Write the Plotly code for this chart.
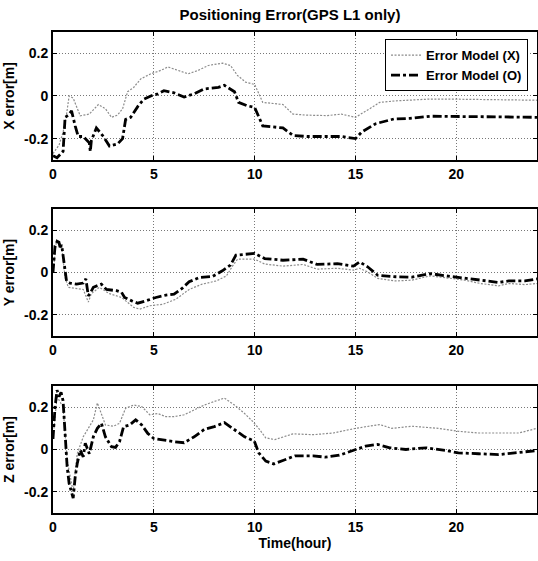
import plotly.graph_objects as go

# ---------------- data ----------------
# X error panel
tx_o = [0, 0.2, 0.5, 0.6, 0.75, 0.92, 1.1, 1.25, 1.5, 1.8, 1.85, 1.9, 2.15, 2.5, 2.8, 3.2, 3.45, 3.6, 3.85, 4.2, 4.5, 4.85,
        5.2, 5.5, 6.0, 6.5, 7.0, 7.5, 8.2, 8.5, 9.0, 9.2, 9.6, 10.0, 10.4, 10.9, 11.4, 11.9, 12.6, 14.3, 15.0, 15.3, 16.0,
        16.9, 17.7, 18.7, 20.0, 22.0, 24.0]
x_err_o = [-0.28, -0.29, -0.26, -0.10, -0.09, -0.07, -0.14, -0.19, -0.19, -0.22, -0.26, -0.21, -0.15, -0.19, -0.235,
           -0.225, -0.20, -0.11, -0.10, -0.05, -0.015, 0.0, 0.01, 0.025, 0.015, -0.005, 0.01, 0.033, 0.04, 0.05, 0.02,
           -0.03, -0.045, -0.054, -0.14, -0.146, -0.15, -0.185, -0.19, -0.19, -0.20, -0.17, -0.13, -0.108, -0.105,
           -0.095, -0.095, -0.098, -0.10]
tx_x = [0, 0.15, 0.3, 0.5, 0.65, 0.8, 1.0, 1.35, 1.8, 2.25, 2.6, 2.9, 3.2, 3.45, 3.7, 4.0, 4.35, 4.85, 5.35, 5.7, 6.2,
        6.7, 7.2, 7.7, 8.4, 8.8, 9.15, 9.55, 10.0, 10.4, 11.4, 11.9, 12.6, 13.6, 14.3, 15.0, 15.7, 16.2, 17.0, 18.6,
        20.0, 22.0, 24.0]
x_err_x = [-0.27, -0.25, -0.23, -0.17, -0.10, 0.0, -0.01, -0.093, -0.085, -0.04, -0.06, -0.10, -0.09, -0.06, 0.02,
           0.04, 0.08, 0.104, 0.12, 0.136, 0.12, 0.104, 0.12, 0.143, 0.154, 0.143, 0.096, 0.065, 0.054, -0.03, -0.04,
           -0.085, -0.09, -0.092, -0.085, -0.10, -0.06, -0.03, -0.023, -0.015, -0.015, -0.018, -0.02]

# Y error panel
ty_o = [0, 0.1, 0.26, 0.35, 0.43, 0.5, 0.6, 0.67, 0.84, 1.17, 1.5, 1.63, 1.75, 1.83, 2.0, 2.4, 2.65, 3.15, 3.4, 3.55,
        3.9, 4.2, 4.6, 5.1, 5.6, 6.0, 6.4, 6.75, 7.25, 7.9, 8.4, 8.8, 9.07, 9.56, 10.0, 10.5, 11.4, 12.4, 13.1, 14.1,
        14.9, 15.2, 15.6, 16.1, 17.0, 17.8, 18.7, 19.5, 20.4, 21.2, 22.1, 22.6, 23.4, 24.0]
y_err_o = [0.0, 0.126, 0.157, 0.12, 0.13, 0.08, -0.016, -0.04, -0.05, -0.055, -0.05, -0.03, -0.11, -0.10, -0.07,
           -0.055, -0.08, -0.086, -0.094, -0.118, -0.134, -0.145, -0.134, -0.118, -0.107, -0.102, -0.075, -0.044,
           -0.024, -0.019, 0.008, 0.035, 0.082, 0.086, 0.09, 0.066, 0.058, 0.063, 0.038, 0.042, 0.03, 0.05, 0.027,
           -0.013, -0.02, -0.022, -0.005, -0.016, -0.028, -0.036, -0.047, -0.04, -0.04, -0.03]
ty_x = [0, 0.18, 0.43, 0.6, 0.76, 1.5, 1.75, 1.9, 2.3, 2.8, 3.4, 4.0, 4.3, 4.8, 5.45, 6.1, 6.75, 7.4, 8.1, 8.6, 8.9,
        9.15, 9.56, 10.0, 10.5, 11.4, 12.4, 13.1, 14.1, 14.9, 15.2, 15.6, 16.1, 17.0, 17.8, 18.7, 19.5, 20.4, 21.2,
        22.1, 22.6, 23.4, 24.0]
y_err_x = [0.0, 0.157, 0.126, -0.024, -0.07, -0.08, -0.14, -0.10, -0.07, -0.10, -0.118, -0.165, -0.173, -0.157,
           -0.15, -0.126, -0.08, -0.055, -0.04, -0.016, 0.03, 0.063, 0.063, 0.063, 0.04, 0.03, 0.038, 0.016, 0.02,
           0.011, 0.02, 0.003, -0.028, -0.04, -0.036, -0.016, -0.025, -0.036, -0.052, -0.063, -0.052, -0.057, -0.052]

# Z error panel
tz_o = [0, 0.1, 0.2, 0.3, 0.4, 0.5, 0.6, 0.7, 0.8, 0.9, 1.0, 1.1, 1.2, 1.35, 1.5, 1.6, 1.8, 2.0, 2.2, 2.4, 2.6, 2.9,
        3.1, 3.3, 3.5, 3.8, 4.1, 4.4, 4.7, 5.0, 5.5, 6.0, 6.5, 7.0, 7.5, 8.0, 8.5, 9.0, 9.5, 9.98, 10.2, 10.55, 10.95,
        11.4, 12.0, 12.9, 13.5, 14.2, 14.9, 15.5, 16.1, 16.7, 17.5, 18.5, 19.5, 20.1, 21.1, 22.1, 22.9, 23.7, 24.0]
z_err_o = [0.05, 0.2, 0.28, 0.25, 0.27, 0.23, 0.076, -0.08, -0.16, -0.19, -0.23, -0.13, -0.067, -0.003, -0.035, 0.03,
           -0.02, 0.06, 0.10, 0.124, 0.06, 0.013, 0.01, 0.037, 0.108, 0.116, 0.14, 0.116, 0.076, 0.052, 0.044, 0.037,
           0.032, 0.06, 0.095, 0.108, 0.127, 0.092, 0.06, 0.04, -0.016, -0.055, -0.068, -0.052, -0.03, -0.03, -0.036,
           -0.027, -0.005, 0.016, 0.024, 0.008, 0.0, 0.008, -0.005, -0.016, -0.02, -0.024, -0.016, -0.008, -0.005]
tz_x = [0, 0.2, 0.5, 0.7, 1.0, 1.2, 1.5, 1.7, 2.0, 2.2, 2.4, 2.6, 3.0, 3.3, 3.6, 4.0, 4.4, 4.8, 5.2, 5.6, 6.0, 6.5,
        7.0, 7.5, 8.0, 8.5, 9.0, 9.5, 9.9, 10.2, 10.55, 11.0, 11.9, 12.9, 13.9, 15.0, 16.2, 16.8, 17.8, 19.1, 20.1,
        21.1, 22.1, 23.1, 24.0]
z_err_x = [0.05, 0.25, 0.2, -0.05, -0.2, -0.02, 0.06, 0.09, 0.14, 0.22, 0.17, 0.116, 0.11, 0.124, 0.195, 0.21, 0.203,
           0.164, 0.17, 0.155, 0.155, 0.164, 0.187, 0.21, 0.227, 0.243, 0.21, 0.17, 0.133, 0.10, 0.055, 0.047, 0.074,
           0.07, 0.078, 0.10, 0.118, 0.10, 0.11, 0.10, 0.086, 0.078, 0.078, 0.078, 0.10]

x_ticks = [0, 5, 10, 15, 20]
y_ticks = [-0.2, 0, 0.2]
y_tick_text = ["-0.2", "0", "0.2"]
axis_titles = ["X error[m]", "Y error[m]", "Z error[m]"]
legend_names = ["Error Model (X)", "Error Model (O)"]

# ---------------- figure ----------------
FONT = "Liberation Sans"
fig = go.Figure()
panels = [(tx_x, x_err_x, tx_o, x_err_o), (ty_x, y_err_x, ty_o, y_err_o), (tz_x, z_err_x, tz_o, z_err_o)]
domains = [[0.734, 1.0], [0.368, 0.632], [0.0, 0.264]]

for i, (tX, vX, tO, vO) in enumerate(panels):
    sfx = "" if i == 0 else str(i + 1)
    fig.add_trace(go.Scatter(x=tX, y=vX, mode="lines", name=legend_names[0],
                             line=dict(color="#8c8c8c", width=1.2, dash="2px,1.5px"),
                             xaxis="x" + sfx, yaxis="y" + sfx, showlegend=(i == 0)))
    fig.add_trace(go.Scatter(x=tO, y=vO, mode="lines", name=legend_names[1],
                             line=dict(color="black", width=2.8, dash="dashdot"),
                             xaxis="x" + sfx, yaxis="y" + sfx, showlegend=(i == 0)))
    common = dict(showline=True, linecolor="black", linewidth=2, mirror="ticks",
                  ticks="inside", ticklen=4, tickcolor="black", tickwidth=1,
                  showgrid=True, gridcolor="#777777", gridwidth=1, griddash="1px,2px",
                  zeroline=False, automargin=False,
                  tickfont=dict(family=FONT, size=14, color="black", weight="bold"))
    xa = dict(common, range=[0, 24], tickvals=x_ticks, domain=[0, 1], anchor="y" + sfx)
    ya = dict(common, range=[-0.3, 0.3], tickvals=y_ticks, ticktext=y_tick_text, domain=domains[i],
              anchor="x" + sfx,
              title=dict(text=axis_titles[i], standoff=6,
                         font=dict(family=FONT, size=14, color="black", weight="bold")))
    if i == 2:
        xa["title"] = dict(text="Time(hour)", standoff=4,
                           font=dict(family=FONT, size=14, color="black", weight="bold"))
    fig.update_layout(**{"xaxis" + sfx: xa, "yaxis" + sfx: ya})

fig.update_layout(
    width=538, height=561,
    margin=dict(l=53, r=1, t=32, b=48, autoexpand=False),
    paper_bgcolor="white", plot_bgcolor="white",
    title=dict(text="Positioning Error(GPS L1 only)", x=0.539, xanchor="center", y=0.973, yanchor="middle",
               font=dict(family=FONT, size=15, color="black", weight="bold")),
    legend=dict(x=0.686, y=0.985, xanchor="left", yanchor="top", bgcolor="white",
                bordercolor="black", borderwidth=1, tracegroupgap=0,
                font=dict(family=FONT, size=13, color="black", weight="bold")),
    showlegend=True,
)

fig.write_html("out.html", config={"displayModeBar": False},
               post_script="document.body.style.margin='0';document.body.style.overflow='hidden';")
